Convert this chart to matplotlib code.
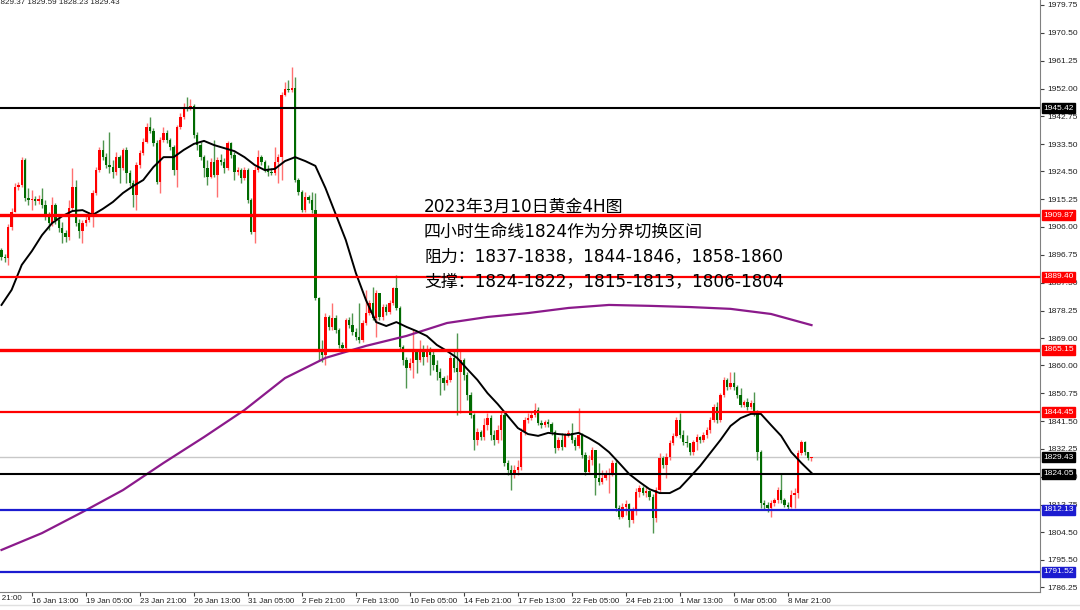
import numpy as np
import matplotlib
matplotlib.use('Agg')
import matplotlib.pyplot as plt
from matplotlib.lines import Line2D

plt.rcParams['font.family'] = ['Liberation Sans', 'DejaVu Sans']

# ---- 4H 黄金K线数据 ----
first_open = 1898.4
closes = [
    1896.0, 1895.7, 1906.0, 1911.0, 1919.3, 1919.9, 1928.3, 1915.6, 1915.0, 1915.3,
    1914.6, 1915.3, 1913.3, 1910.0, 1907.3, 1913.3, 1908.3, 1905.7, 1904.0, 1902.7,
    1912.3, 1919.3, 1907.3, 1904.7, 1907.3, 1908.3, 1910.0, 1917.3, 1924.9, 1931.6,
    1929.2, 1926.6, 1925.9, 1924.3, 1929.2, 1925.6, 1931.6, 1923.9, 1920.6, 1916.6,
    1926.6, 1930.6, 1934.2, 1939.2, 1937.9, 1933.9, 1920.9, 1934.9, 1937.2, 1934.9,
    1932.6, 1924.9, 1939.2, 1942.5, 1945.9, 1945.5, 1946.2, 1936.6, 1933.2, 1929.2,
    1925.6, 1922.6, 1927.6, 1923.3, 1928.3, 1927.6, 1925.6, 1933.9, 1929.9, 1924.3,
    1924.9, 1922.3, 1924.9, 1915.0, 1904.3, 1924.9, 1929.2, 1927.6, 1924.9, 1924.3,
    1923.9, 1927.6, 1929.2, 1949.8, 1951.8, 1951.5, 1952.2, 1921.6, 1917.6, 1911.6,
    1916.0, 1915.0, 1911.6, 1882.4, 1865.1, 1863.5, 1876.1, 1872.8, 1875.8, 1871.8,
    1866.8, 1865.8, 1875.1, 1873.4, 1871.1, 1869.5, 1868.5, 1874.1, 1877.4, 1880.7,
    1875.8, 1884.1, 1876.1, 1879.4, 1877.8, 1880.7, 1885.7, 1879.1, 1866.1, 1861.8,
    1859.2, 1860.8, 1864.5, 1861.8, 1864.5, 1862.8, 1865.1, 1863.5, 1860.2, 1857.8,
    1855.8, 1854.2, 1855.2, 1862.5, 1859.2, 1857.8, 1861.8, 1856.8, 1850.2, 1843.5,
    1835.2, 1837.9, 1836.2, 1840.2, 1842.5, 1836.9, 1835.2, 1838.5, 1843.5, 1827.6,
    1825.3, 1823.6, 1825.3, 1826.3, 1837.9, 1841.9, 1842.5, 1843.5, 1845.2, 1840.9,
    1840.2, 1841.2, 1840.6, 1837.9, 1832.6, 1835.2, 1832.9, 1836.9, 1837.6, 1835.2,
    1833.2, 1836.9, 1830.3, 1824.6, 1828.6, 1831.9, 1822.6, 1821.3, 1822.6, 1823.9,
    1824.3, 1827.6, 1812.6, 1809.7, 1813.0, 1814.0, 1808.7, 1812.0, 1818.0, 1819.3,
    1817.6, 1818.3, 1816.3, 1809.3, 1818.6, 1829.3, 1826.9, 1829.6, 1834.2, 1836.6,
    1841.9, 1836.9, 1834.6, 1834.2, 1831.3, 1834.6, 1836.2, 1835.2, 1836.9, 1838.5,
    1841.9, 1846.2, 1841.9, 1850.2, 1855.2, 1852.8, 1854.2, 1852.8, 1850.2, 1846.9,
    1847.9, 1846.2, 1847.5, 1844.2, 1831.3, 1814.3, 1813.6, 1812.6, 1814.3, 1815.3,
    1818.6, 1815.3, 1813.6, 1813.0, 1817.0, 1817.6, 1830.9, 1834.6, 1831.3, 1829.37,
    1829.43,
]
highs = [
    1899.0, 1897.0, 1907.0, 1912.3, 1920.6, 1920.9, 1929.2, 1928.9, 1919.0, 1918.3,
    1916.3, 1916.6, 1919.0, 1915.0, 1911.0, 1916.0, 1914.0, 1910.0, 1907.7, 1905.0,
    1915.0, 1925.6, 1921.6, 1908.7, 1908.3, 1909.6, 1911.0, 1918.3, 1925.9, 1932.6,
    1934.9, 1930.6, 1937.6, 1928.3, 1930.9, 1929.9, 1932.2, 1932.6, 1924.9, 1921.6,
    1927.6, 1931.6, 1935.6, 1940.5, 1942.5, 1938.9, 1934.9, 1935.9, 1939.2, 1938.2,
    1935.6, 1933.2, 1939.9, 1943.9, 1947.2, 1949.2, 1948.5, 1946.9, 1937.6, 1934.2,
    1929.9, 1928.3, 1928.9, 1934.9, 1929.2, 1930.2, 1928.9, 1934.6, 1934.2, 1930.9,
    1925.9, 1925.6, 1925.9, 1925.6, 1915.6, 1926.3, 1931.6, 1929.9, 1928.3, 1926.6,
    1925.6, 1932.6, 1930.2, 1950.8, 1954.2, 1954.8, 1959.1, 1955.8, 1922.3, 1918.3,
    1917.6, 1916.6, 1917.6, 1917.3, 1882.7, 1868.5, 1877.4, 1876.8, 1880.7, 1876.8,
    1872.4, 1867.8, 1875.8, 1876.1, 1877.4, 1872.4, 1880.7, 1875.1, 1885.1, 1881.7,
    1886.1, 1885.1, 1884.1, 1880.4, 1880.4, 1881.7, 1886.1, 1890.0, 1879.8, 1866.8,
    1862.8, 1862.5, 1871.8, 1865.1, 1868.5, 1866.8, 1866.8, 1866.1, 1865.1, 1861.8,
    1859.2, 1856.5, 1856.8, 1863.5, 1865.1, 1870.8, 1865.1, 1862.5, 1857.8, 1851.2,
    1844.2, 1839.2, 1838.5, 1842.5, 1844.2, 1843.5, 1838.5, 1840.2, 1844.5, 1844.2,
    1828.6, 1826.9, 1826.9, 1828.6, 1839.2, 1842.9, 1844.2, 1844.5, 1847.5, 1846.2,
    1841.9, 1841.9, 1842.2, 1841.2, 1838.5, 1836.2, 1837.6, 1837.6, 1838.5, 1840.9,
    1836.2, 1845.9, 1837.6, 1831.3, 1830.3, 1832.9, 1831.9, 1827.6, 1825.3, 1825.3,
    1825.9, 1828.6, 1828.6, 1813.6, 1814.3, 1815.3, 1814.3, 1813.0, 1819.3, 1820.3,
    1820.0, 1819.6, 1818.6, 1817.3, 1819.6, 1830.9, 1829.9, 1830.9, 1835.2, 1837.6,
    1842.9, 1844.2, 1838.5, 1836.9, 1834.2, 1835.2, 1837.2, 1836.6, 1837.9, 1839.6,
    1842.9, 1847.2, 1847.9, 1850.9, 1856.2, 1855.8, 1857.8, 1857.8, 1853.5, 1852.5,
    1848.5, 1849.2, 1848.5, 1851.2, 1845.2, 1831.9, 1815.3, 1814.6, 1815.3, 1816.0,
    1819.6, 1824.3, 1816.0, 1814.6, 1818.6, 1819.3, 1831.9, 1835.2, 1834.9, 1831.3,
    1829.59,
]
lows = [
    1895.0, 1894.4, 1893.4, 1905.0, 1911.0, 1918.3, 1919.3, 1914.6, 1913.3, 1911.6,
    1913.3, 1913.6, 1912.3, 1908.3, 1905.0, 1906.3, 1907.0, 1904.3, 1900.7, 1901.0,
    1901.7, 1911.6, 1906.3, 1902.3, 1900.7, 1906.3, 1907.7, 1906.0, 1916.6, 1924.3,
    1928.3, 1925.6, 1923.9, 1922.3, 1923.3, 1920.6, 1924.9, 1920.6, 1919.6, 1912.6,
    1911.6, 1925.6, 1929.9, 1933.9, 1937.2, 1932.9, 1920.3, 1917.3, 1934.2, 1933.9,
    1931.6, 1923.3, 1919.3, 1938.6, 1941.9, 1944.5, 1944.9, 1935.6, 1931.6, 1928.3,
    1922.6, 1919.9, 1922.3, 1922.6, 1916.0, 1926.6, 1923.9, 1924.9, 1928.9, 1921.6,
    1923.3, 1920.6, 1921.6, 1914.0, 1903.7, 1900.7, 1924.3, 1926.6, 1924.3, 1922.9,
    1923.3, 1923.3, 1920.6, 1921.6, 1949.5, 1950.8, 1950.8, 1920.9, 1916.6, 1911.0,
    1911.0, 1914.0, 1910.6, 1881.7, 1861.8, 1861.1, 1860.2, 1871.8, 1871.8, 1870.8,
    1865.8, 1865.1, 1865.1, 1872.4, 1870.1, 1868.5, 1867.5, 1867.8, 1873.4, 1876.8,
    1875.1, 1869.5, 1875.1, 1875.1, 1876.8, 1877.1, 1880.1, 1878.4, 1865.5, 1860.2,
    1852.5, 1858.5, 1855.8, 1857.5, 1861.1, 1860.2, 1861.1, 1856.8, 1858.5, 1855.2,
    1850.2, 1851.8, 1853.5, 1854.5, 1857.8, 1843.5, 1844.2, 1855.2, 1848.5, 1842.5,
    1831.9, 1833.6, 1835.2, 1835.2, 1838.5, 1835.2, 1833.6, 1834.2, 1835.2, 1826.6,
    1823.6, 1818.6, 1822.6, 1823.6, 1825.3, 1836.9, 1840.9, 1841.9, 1842.9, 1840.2,
    1839.2, 1839.6, 1839.6, 1836.9, 1830.9, 1831.9, 1831.9, 1832.9, 1836.2, 1834.2,
    1831.9, 1832.6, 1829.3, 1823.6, 1823.9, 1826.9, 1817.0, 1820.3, 1820.6, 1821.9,
    1817.6, 1823.3, 1811.7, 1809.0, 1809.2, 1810.3, 1806.3, 1807.7, 1810.3, 1816.3,
    1817.0, 1816.3, 1815.3, 1804.3, 1808.0, 1818.0, 1825.9, 1822.6, 1828.6, 1833.6,
    1836.2, 1835.9, 1833.6, 1832.9, 1830.3, 1830.3, 1831.9, 1834.2, 1834.6, 1835.9,
    1837.6, 1841.2, 1840.9, 1841.2, 1849.5, 1851.8, 1852.2, 1851.8, 1849.2, 1846.2,
    1846.2, 1845.2, 1845.5, 1843.2, 1828.6, 1812.6, 1812.0, 1811.3, 1809.7, 1813.3,
    1814.3, 1814.3, 1813.0, 1812.0, 1812.6, 1812.6, 1816.0, 1830.3, 1830.3, 1828.6,
    1828.23,
]

# 均线 (黑: 短期, 紫: 长期), 每隔若干根K线读取一次
black_ma_step = 3
black_ma = [
    1880.1, 1885.1, 1893.4, 1898.0, 1903.3, 1907.3, 1909.6, 1911.3, 1911.6, 1910.0,
    1912.0, 1914.3, 1917.3, 1919.6, 1921.6, 1925.9, 1929.2, 1929.2, 1931.6, 1933.6,
    1934.6, 1933.2, 1932.2, 1931.2, 1929.2, 1926.6, 1924.9, 1925.3, 1927.9, 1929.2,
    1927.9, 1926.3, 1918.9, 1910.3, 1901.7, 1890.7, 1881.7, 1874.4, 1873.1, 1874.4,
    1872.8, 1871.4, 1869.8, 1866.8, 1864.8, 1862.5, 1858.8, 1855.2, 1850.8, 1847.2,
    1843.2, 1839.2, 1837.2, 1836.6, 1837.6, 1837.2, 1836.9, 1837.6, 1835.9, 1833.9,
    1831.2, 1827.6, 1823.9, 1821.3, 1818.9, 1817.6, 1817.6, 1819.3, 1822.9, 1826.6,
    1830.9, 1835.2, 1839.9, 1842.5, 1843.9, 1843.9, 1840.2, 1836.6, 1831.2, 1827.6,
    1824.3,
]
purple_ma_step = 12
purple_ma = [
    1798.7, 1804.3, 1811.3, 1818.6, 1827.6, 1836.2, 1845.2, 1855.8, 1862.5, 1866.5,
    1869.8, 1874.1, 1876.1, 1877.4, 1879.1, 1880.1, 1879.8, 1879.4, 1878.8, 1877.1,
    1873.4,
]

# 水平线 (价格, 颜色, 线宽)
levels = [1945.42, 1909.87, 1889.40, 1865.15, 1844.45, 1829.43, 1824.05, 1812.13, 1791.52]
level_colors = ['black', 'red', 'red', 'red', 'red', '#c8c8c8', 'black', '#1c1cd0', '#1c1cd0']
level_widths = [1.5, 2.4, 1.6, 2.4, 1.6, 1.0, 1.5, 1.6, 1.6]
label_bg = ['black', 'red', 'red', 'red', 'red', 'black', 'black', '#1c1cd0', '#1c1cd0']

price_ticks = [1979.75, 1970.50, 1961.25, 1952.00, 1942.75, 1933.50, 1924.50, 1915.25,
               1906.00, 1896.75, 1887.50, 1878.25, 1869.00, 1860.00, 1850.75, 1841.50,
               1832.25, 1823.00, 1813.75, 1804.50, 1795.50, 1786.25]
time_tick_first = 9
time_tick_step = 16
time_labels = ['16 Jan 13:00', '19 Jan 05:00', '23 Jan 21:00', '26 Jan 13:00', '31 Jan 05:00',
               '2 Feb 21:00', '7 Feb 13:00', '10 Feb 05:00', '14 Feb 21:00', '17 Feb 13:00',
               '22 Feb 05:00', '24 Feb 21:00', '1 Mar 13:00', '6 Mar 05:00', '8 Mar 21:00']

notes = ['2023年3月10日黄金4H图',
         '四小时生命线1824作为分界切换区间',
         '阻力：1837-1838，1844-1846，1858-1860',
         '支撑：1824-1822，1815-1813，1806-1804']

# ---- 画布 ----
W, H = 1080, 610
fs_x = 5.8
fs_y = 6.0
fig = plt.figure(figsize=(W / 100, H / 100), dpi=100)
fig.patch.set_facecolor('white')
ax = fig.add_axes([0, 1 - 592 / H, 1040 / W, 592 / H])

closes = np.array(closes)
highs = np.array(highs)
lows = np.array(lows)
opens = np.r_[first_open, closes[:-1]]
highs = np.maximum(highs, np.maximum(opens, closes))
lows = np.minimum(lows, np.minimum(opens, closes))
x = np.arange(len(closes))

up = closes >= opens
body_col = np.where(up, '#ff0000', '#006a00')
wick_col = np.where(up, '#ff7070', '#4f954f')

ax.vlines(x, lows, highs, colors=wick_col, linewidth=1.0, zorder=2)
body_h = np.maximum(np.abs(closes - opens), 0.3)
body_b = np.minimum(opens, closes)
ax.bar(x, body_h, bottom=body_b, width=0.72, color=body_col, linewidth=0, zorder=3)

ax.plot(np.arange(len(purple_ma)) * purple_ma_step, purple_ma, color='#8b1a8b', lw=1.6,
        zorder=4, solid_joinstyle='round')
ax.plot(np.arange(len(black_ma)) * black_ma_step, black_ma, color='black', lw=1.4,
        zorder=4, solid_joinstyle='round')

for lv, c, lw in zip(levels, level_colors, level_widths):
    ax.axhline(lv, color=c, lw=lw, zorder=5 if c != '#c8c8c8' else 1)

# 坐标范围: 每根K线 3.375 像素
px_per_bar = 3.375
x0 = -1.5 / px_per_bar
ax.set_xlim(x0, x0 + 1040 / px_per_bar)
ax.set_ylim(1784.73, 1981.41)

ax.spines['top'].set_visible(False)
ax.spines['left'].set_visible(False)
ax.spines['right'].set_color('#808080')
ax.spines['bottom'].set_color('#808080')

ax.yaxis.tick_right()
ax.set_yticks(price_ticks)
ax.set_yticklabels(['%.2f' % p for p in price_ticks])
ax.tick_params(axis='y', length=3, width=0.8, color='#404040', labelsize=fs_y, pad=2.5,
               labelcolor='#202020')

xt = [time_tick_first + i * time_tick_step for i in range(len(time_labels))]
ax.set_xticks(xt)
ax.set_xticklabels(time_labels)
ax.tick_params(axis='x', length=3, width=0.8, color='#404040', labelsize=fs_x, pad=1.5,
               labelcolor='#202020')
for t in ax.get_xticklabels():
    t.set_ha('left')

# 右侧价格标签
ytr = ax.get_yaxis_transform()
for lv, bg in zip(levels, label_bg):
    ax.text(1.0 + 3 / 1040, lv, '%.2f' % lv, transform=ytr, ha='left', va='center',
            fontsize=fs_y, color='white', zorder=10, clip_on=False,
            bbox=dict(boxstyle='square,pad=0.18', fc=bg, ec=bg))

# 注释文字
for i, line in enumerate(notes):
    fig.text(424 / W, 1 - (207 + i * 24.7) / H, line, fontsize=12.2, va='center', ha='left',
             family=['DejaVu Sans', 'Noto Sans CJK SC'], color='black')

# 左上角 OHLC 和左侧被截断的时间标签
fig.text(-4 / W, 1 - 3 / H, '1829.37 1829.59 1828.23 1829.43', fontsize=fs_x, va='center',
         ha='left', color='#202020')
fig.text(-24 / W, 1 - 599 / H, '11 Jan 21:00', fontsize=fs_x, va='center', ha='left',
         color='#202020')
fig.add_artist(Line2D([0, 1], [1 - 605 / H, 1 - 605 / H], transform=fig.transFigure,
                      color='#e0e0e0', lw=1))

fig.savefig('out.png', dpi=100)
